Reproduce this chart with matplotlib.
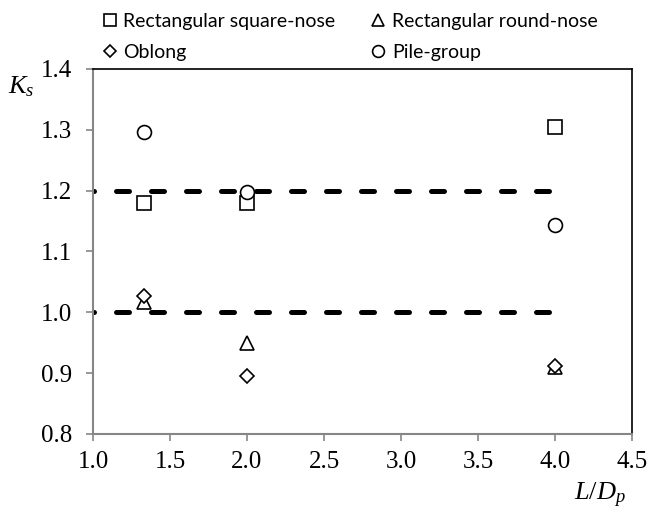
import matplotlib
matplotlib.use("Agg")
import matplotlib.pyplot as plt
from matplotlib.lines import Line2D

# Data
x_vals = [1.33, 2.0, 4.0]
sq_nose = [1.18, 1.18, 1.305]
round_nose = [1.017, 0.95, 0.91]
oblong = [1.027, 0.895, 0.912]
pile_group = [1.296, 1.197, 1.143]
ref_x = [1.0, 4.0]
ref_levels = [1.2, 1.0]
labels = ["Rectangular square-nose", "Rectangular round-nose", "Oblong", "Pile-group"]
xticks = [1.0, 1.5, 2.0, 2.5, 3.0, 3.5, 4.0, 4.5]
yticks = [0.8, 0.9, 1.0, 1.1, 1.2, 1.3, 1.4]

plt.rcParams['mathtext.fontset'] = 'custom'
plt.rcParams['mathtext.rm'] = 'Liberation Serif'
plt.rcParams['mathtext.it'] = 'Liberation Serif:italic'

fig = plt.figure(figsize=(6.5, 5.14), dpi=100)
ax = fig.add_axes([93/650, 1-434/514, (632-93)/650, (434-69)/514])

grey = '#868686'
for y in ref_levels:
    ax.plot(ref_x, [y, y], color='black', lw=3.6, linestyle=(2.4, (2.6, 4.4)),
            dash_capstyle='round', solid_capstyle='round', zorder=2)

mk = dict(mfc='white', mec='black', mew=1.2, ls='none', zorder=3)
h_sq, = ax.plot(x_vals, sq_nose, marker='s', ms=10, **mk)
h_tr, = ax.plot(x_vals, round_nose, marker='^', ms=10, **mk)
h_ob, = ax.plot(x_vals, oblong, marker='D', ms=7, **mk)
h_pg, = ax.plot(x_vals, pile_group, marker='o', ms=10, **mk)

ax.set_xlim(1.0, 4.5)
ax.set_ylim(0.8, 1.4)
ax.set_xticks(xticks)
ax.set_yticks(yticks)
ax.set_xticklabels([f"{v:.1f}" for v in xticks])
ax.set_yticklabels([f"{v:.1f}" for v in yticks])
for lab in ax.get_xticklabels() + ax.get_yticklabels():
    lab.set_fontfamily('Liberation Serif')
    lab.set_fontsize(18)
ax.tick_params(axis='both', direction='out', length=5, width=1.2, color=grey)
ax.tick_params(axis='x', pad=7.5)
ax.tick_params(axis='y', pad=10)
ax.spines['left'].set_color(grey)
ax.spines['bottom'].set_color(grey)
ax.spines['left'].set_linewidth(1.5)
ax.spines['bottom'].set_linewidth(1.5)
ax.spines['top'].set_color('black')
ax.spines['right'].set_color('black')
ax.spines['top'].set_linewidth(1.2)
ax.spines['right'].set_linewidth(1.2)

fig.text(21/650, 1-86/514, r'$K_s$', fontsize=19, ha='center', va='center')
fig.text(600/650, 1-495/514, r'$L/D_p$', fontsize=19, ha='center', va='center')

lh = [Line2D([], [], marker=m, ms=s, mfc='white', mec='black', mew=1.2, ls='none')
      for m, s in [('s', 8.5), ('D', 6), ('^', 8.5), ('o', 8.5)]]
leg = fig.legend(lh, [labels[0], labels[2], labels[1], labels[3]], ncol=2,
                 loc='upper left', bbox_to_anchor=(102/650, 1-13/514), frameon=False,
                 prop={'family': 'Lato', 'size': 14}, handlelength=0.8,
                 handletextpad=0.3, columnspacing=1.8, labelspacing=0.7,
                 borderaxespad=0, borderpad=0)

fig.savefig('out.png', dpi=100)
